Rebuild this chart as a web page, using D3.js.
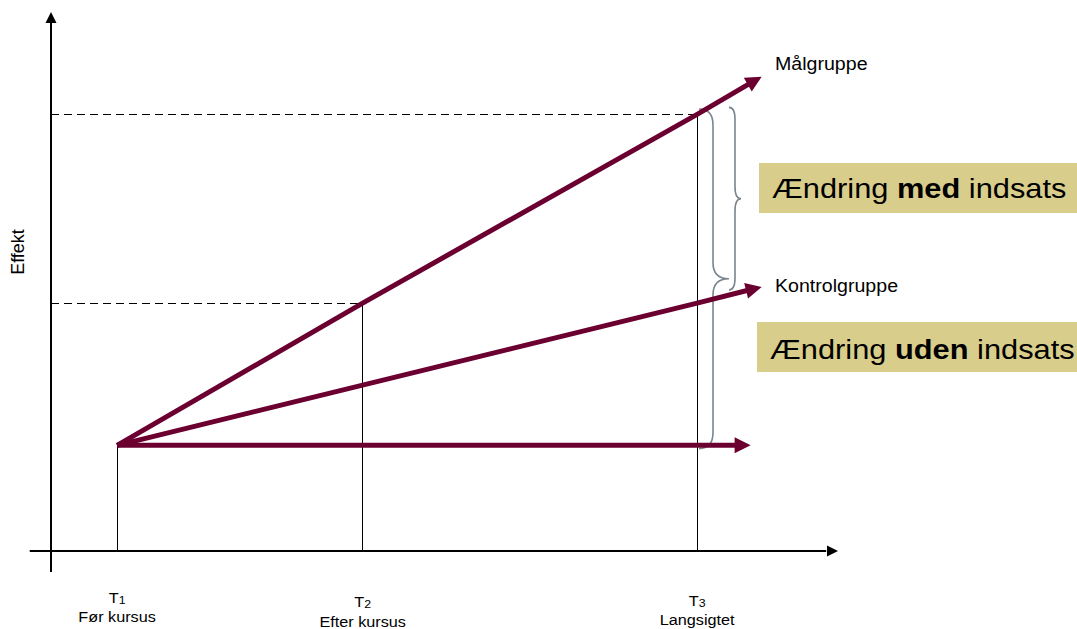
<!DOCTYPE html>
<html>
<head>
<meta charset="utf-8">
<script src="https://cdn.jsdelivr.net/npm/d3@7"></script>
<style>
  html, body { margin: 0; padding: 0; background: #fff; }
  svg { display: block; font-family: "Liberation Sans", Arial, sans-serif; }
</style>
</head>
<body>
<svg id="chart" width="1077" height="629"></svg>
<script>
// ---------------- data ----------------
const timeLetters = ["T", "T", "T"];
const timeSubs = ["1", "2", "3"];
const timeNames = ["Før kursus", "Efter kursus", "Langsigtet"];
const timePositions = [0.84, 3.96, 8.21];       // T1, T2, T3 on the time scale
const arrowEndTime = 9.03;                       // where the sloped arrows end
const flatEndTime = 8.89;                        // where the flat arrow ends

const startEffect = 19.6;                        // effect at T1
const maalValues = [19.6, 46, 81];               // Målgruppe at T1, T2, T3
const maalEnd = 88;                              // Målgruppe at arrow end
const kontrolValues = [19.6, 46];                // Kontrolgruppe at T1, T3
const kontrolEnd = 49;                           // Kontrolgruppe at arrow end

const seriesLabels = ["Målgruppe", "Kontrolgruppe"];
const boxLabels = [["Ændring ", "med", " indsats"], ["Ændring ", "uden", " indsats"]];
const yAxisLabel = "Effekt";

// ---------------- setup ----------------
const svg = d3.select("#chart");
const x = d3.scaleLinear().domain([0, 10]).range([51, 838]);
const y = d3.scaleLinear().domain([0, 100]).range([551, 12]);

const MAROON = "#6b0030";
const GREY = "#7b858e";
const BOX = "#d9cd8b";
const STRETCH = 1.12;

function arrowHead(g, p0, p1, len, halfW, color) {
  const dx = p1[0] - p0[0], dy = p1[1] - p0[1], L = Math.hypot(dx, dy);
  const ux = dx / L, uy = dy / L, nx = -uy, ny = ux;
  const bx = p1[0] - ux * len, by = p1[1] - uy * len;
  g.append("path")
    .attr("d", `M${p1[0]},${p1[1]}L${bx + nx * halfW},${by + ny * halfW}L${bx - nx * halfW},${by - ny * halfW}Z`)
    .attr("fill", color);
  return [bx + ux * 3, by + uy * 3];
}

function stretchedText(g, px, py, anchor, size) {
  return g.append("g").attr("transform", `translate(${px},${py}) scale(${STRETCH},1)`)
    .append("text").attr("text-anchor", anchor).attr("font-size", size).attr("fill", "#000");
}

// ---------------- axes ----------------
const axes = svg.append("g");
axes.append("line")
  .attr("x1", x(0)).attr("y1", y(-3.9)).attr("x2", x(0)).attr("y2", y(98))
  .attr("stroke", "#000").attr("stroke-width", 2);
arrowHead(axes, [x(0), y(0)], [x(0), y(100)], 11, 5.5, "#000");
axes.append("line")
  .attr("x1", x(-0.27)).attr("y1", y(0)).attr("x2", x(9.85)).attr("y2", y(0))
  .attr("stroke", "#000").attr("stroke-width", 2);
arrowHead(axes, [x(0), y(0)], [x(10), y(0)], 11, 5.5, "#000");

// y label
svg.append("text")
  .attr("transform", `translate(24,252) rotate(-90)`)
  .attr("text-anchor", "middle")
  .attr("font-size", 18)
  .text(yAxisLabel);

// ---------------- guide lines ----------------
const guides = svg.append("g").attr("shape-rendering", "crispEdges");
guides.append("line")
  .attr("x1", x(0)).attr("x2", x(timePositions[2]))
  .attr("y1", y(maalValues[2])).attr("y2", y(maalValues[2]))
  .attr("stroke", "#000").attr("stroke-width", 1).attr("stroke-dasharray", "8,5");
guides.append("line")
  .attr("x1", x(0)).attr("x2", x(timePositions[1]))
  .attr("y1", y(maalValues[1])).attr("y2", y(maalValues[1]))
  .attr("stroke", "#000").attr("stroke-width", 1).attr("stroke-dasharray", "8,5");
const vTops = [startEffect, maalValues[1], maalValues[2]];
timePositions.forEach((t, i) => {
  guides.append("line")
    .attr("x1", x(t)).attr("x2", x(t))
    .attr("y1", y(vTops[i])).attr("y2", y(0))
    .attr("stroke", "#000").attr("stroke-width", 1);
});

// ---------------- braces ----------------
function bracePath(x0, xv, xc, yTop, yBot, r) {
  const yMid = (yTop + yBot) / 2;
  return `M${x0},${yTop}Q${xv},${yTop} ${xv},${yTop + r}L${xv},${yMid - r}` +
    `Q${xv},${yMid} ${xc},${yMid}Q${xv},${yMid} ${xv},${yMid + r}` +
    `L${xv},${yBot - r}Q${xv},${yBot} ${x0},${yBot}`;
}
const braces = svg.append("g").attr("fill", "none").attr("stroke", GREY).attr("stroke-width", 1.6);
braces.append("path").attr("d", bracePath(699, 713, 729, y(82), y(19), 16));
braces.append("path").attr("d", bracePath(729, 735, 741, y(82.3), y(48.4), 12));

// ---------------- series arrows ----------------
const series = [
  [[timePositions[0], maalValues[0]], [timePositions[1], maalValues[1]], [timePositions[2], maalValues[2]], [arrowEndTime, maalEnd]],
  [[timePositions[0], kontrolValues[0]], [timePositions[2], kontrolValues[1]], [arrowEndTime, kontrolEnd]],
  [[timePositions[0], startEffect], [flatEndTime, startEffect]]
];
const lines = svg.append("g");
series.forEach(pts => {
  const px = pts.map(p => [x(p[0]), y(p[1])]);
  const n = px.length;
  const base = arrowHead(lines, px[0], px[n - 1], 16, 8, MAROON);
  const shortened = px.slice(0, n - 1).concat([base]);
  lines.append("path")
    .attr("d", d3.line()(shortened))
    .attr("fill", "none").attr("stroke", MAROON).attr("stroke-width", 5)
    .attr("stroke-linejoin", "round");
});

// series labels
stretchedText(svg, 775, 70, "start", 17.5).text(seriesLabels[0]);
stretchedText(svg, 775, 292, "start", 17.5).text(seriesLabels[1]);

// ---------------- boxes ----------------
const boxes = [
  { x0: 759, y0: 163, y1: 213, tx: 772, ty: 198, parts: boxLabels[0] },
  { x0: 757, y0: 322, y1: 372, tx: 770, ty: 359, parts: boxLabels[1] }
];
boxes.forEach(b => {
  svg.append("rect").attr("x", b.x0).attr("y", b.y0).attr("width", 1077 - b.x0).attr("height", b.y1 - b.y0).attr("fill", BOX);
  const t = stretchedText(svg, b.tx, b.ty, "start", 27.5);
  t.append("tspan").text(b.parts[0]);
  t.append("tspan").attr("font-weight", "bold").text(b.parts[1]);
  t.append("tspan").text(b.parts[2]);
});

// ---------------- time labels ----------------
const labelY = [[603, 622], [607, 627], [606, 625]];
timePositions.forEach((t, i) => {
  const tl = stretchedText(svg, x(t), labelY[i][0], "middle", 14.5);
  tl.append("tspan").text(timeLetters[i]);
  tl.append("tspan").attr("font-size", 11).attr("dy", 1).text(timeSubs[i]);
  stretchedText(svg, x(t), labelY[i][1], "middle", 14.5).text(timeNames[i]);
});
</script>
</body>
</html>
